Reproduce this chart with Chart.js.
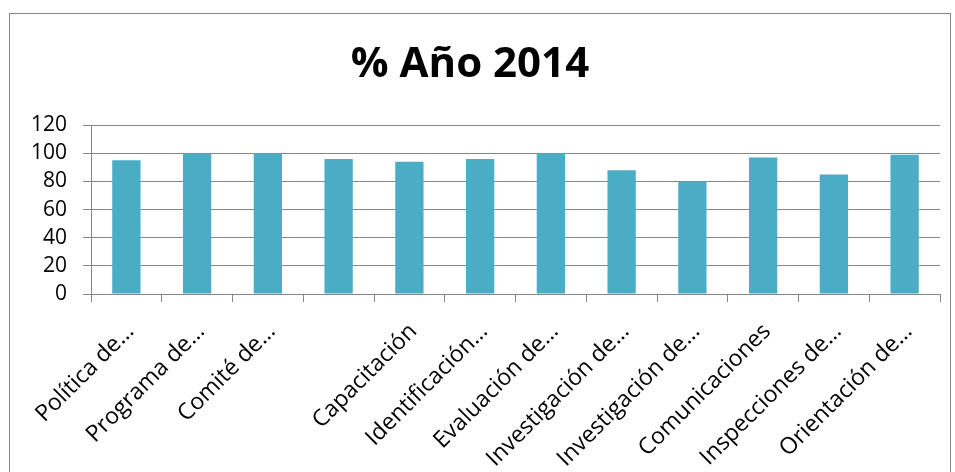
<!DOCTYPE html>
<html>
<head>
<meta charset="utf-8">
<script src="https://cdn.jsdelivr.net/npm/chart.js@4/dist/chart.umd.min.js"></script>
<style>
html,body{margin:0;padding:0;background:#fff;}
#wrap{width:955px;height:472px;position:relative;}
</style>
</head>
<body>
<div id="wrap"><canvas id="c" width="955" height="472"></canvas></div>
<script>
const categories = ["Política de…","Programa de…","Comité de…","","Capacitación","Identificación…","Evaluación de…","Investigación de…","Investigación de…","Comunicaciones","Inspecciones de…","Orientación de…"];
const values = [95, 100, 100, 96, 94, 96, 100, 88, 80, 97, 85, 99];
const yTicks = [0, 20, 40, 60, 80, 100, 120];
const titleText = "% Año 2014";

const borderPlugin = {
  id: 'outerBorder',
  beforeDraw(chart) {
    const ctx = chart.ctx;
    ctx.save();
    ctx.fillStyle = '#fff';
    ctx.fillRect(0, 0, chart.width, chart.height);
    ctx.strokeStyle = '#868686';
    ctx.lineWidth = 1;
    ctx.strokeRect(9.5, 13.5, 941, 470);
    ctx.restore();
  }
};

new Chart(document.getElementById('c'), {
  type: 'bar',
  data: {
    labels: categories,
    datasets: [{
      data: values,
      backgroundColor: '#4BACC6',
      borderWidth: 0,
      barPercentage: 0.4,
      categoryPercentage: 1.0
    }]
  },
  options: {
    responsive: false,
    animation: false,
    layout: { padding: { left: 0, right: 15, top: 0, bottom: 0 } },
    plugins: {
      legend: { display: false },
      tooltip: { enabled: false },
      title: {
        display: true,
        text: titleText,
        color: '#000',
        font: { family: 'Open Sans', size: 42, weight: 'bold', lineHeight: 1.1 },
        padding: { top: 42, bottom: 37 }
      }
    },
    scales: {
      y: {
        min: 0, max: 120,
        afterBuildTicks(scale) { scale.ticks = yTicks.map(v => ({ value: v })); },
        afterFit(scale) { scale.width = 91; },
        grid: { color: '#868686', lineWidth: 1, tickLength: 8, drawTicks: true },
        border: { color: '#868686', width: 1 },
        ticks: { color: '#000', padding: 16, autoSkip: false, font: { family: 'Open Sans', size: 21 } }
      },
      x: {
        afterFit(scale) { scale.height = 178; },
        grid: { drawOnChartArea: false, color: '#868686', tickLength: 8, offset: true },
        border: { color: '#868686', width: 1 },
        ticks: {
          color: '#000', autoSkip: false, minRotation: 45, maxRotation: 45,
          padding: 16, labelOffset: 4,
          font: { family: 'Open Sans', size: 23 }
        }
      }
    }
  },
  plugins: [borderPlugin]
});
</script>
</body>
</html>
